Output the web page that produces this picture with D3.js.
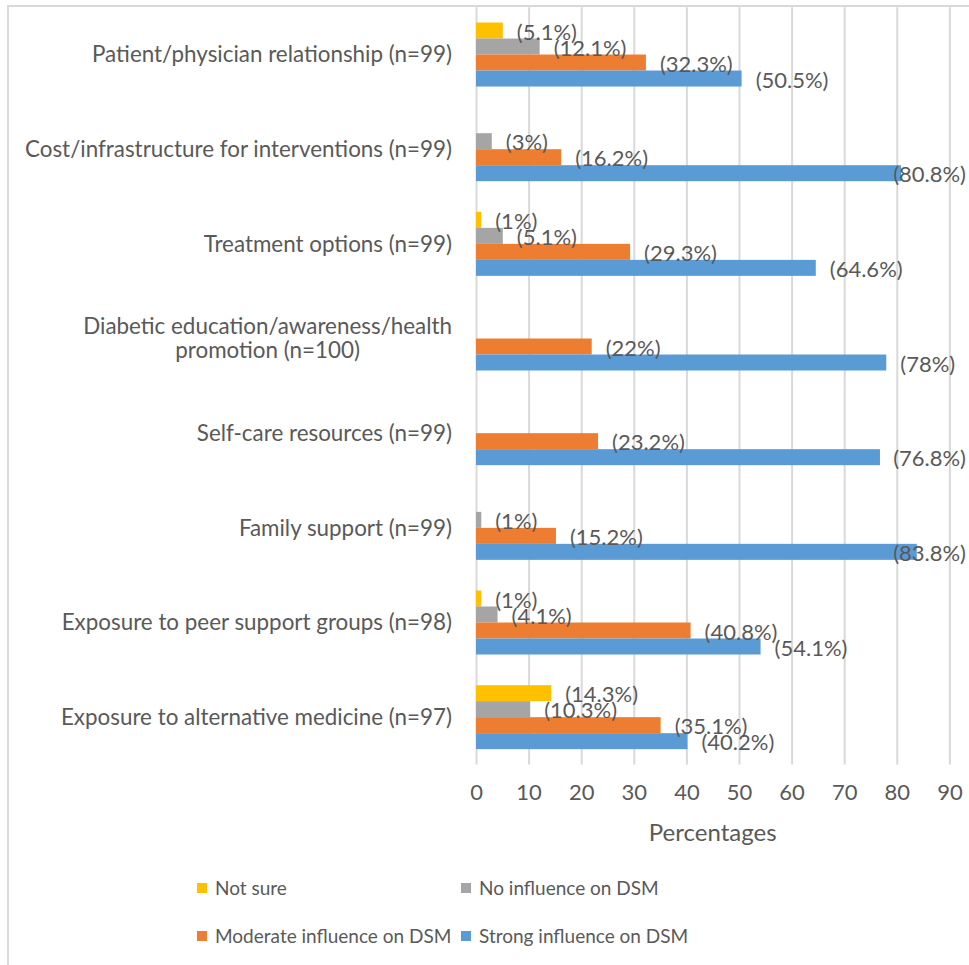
<!DOCTYPE html>
<html>
<head>
<meta charset="utf-8">
<script src="https://cdn.jsdelivr.net/npm/d3@7"></script>
<style>
  html, body { margin: 0; padding: 0; background: #fff; }
  svg { display: block; font-family: Lato, "Open Sans", sans-serif; }
</style>
</head>
<body>
<svg id="chart" width="969" height="965"></svg>
<script>
// Factors influencing diabetes self-management (DSM), % of respondents
const categories = [
  "Patient/physician relationship (n=99)",
  "Cost/infrastructure for interventions (n=99)",
  "Treatment options (n=99)",
  "Diabetic education/awareness/health promotion (n=100)",
  "Self-care resources (n=99)",
  "Family support (n=99)",
  "Exposure to peer support groups (n=98)",
  "Exposure to alternative medicine (n=97)"
];
const seriesNames = ["Not sure", "No influence on DSM", "Moderate influence on DSM", "Strong influence on DSM"];
const notSure     = [5.1, 0, 1, 0, 0, 0, 1, 14.3];
const noInfluence = [12.1, 3, 5.1, 0, 0, 1, 4.1, 10.3];
const moderate    = [32.3, 16.2, 29.3, 22, 23.2, 15.2, 40.8, 35.1];
const strong      = [50.5, 80.8, 64.6, 78, 76.8, 83.8, 54.1, 40.2];
const xTicks      = [0, 10, 20, 30, 40, 50, 60, 70, 80, 90];
const axisTitle   = "Percentages";

const seriesValues = [notSure, noInfluence, moderate, strong];
const colors = ["#FFC000", "#A5A5A5", "#ED7D31", "#5B9BD5"];
const textColor = "#595959";
const gridColor = "#D9D9D9";

const svg = d3.select("#chart");

// chart area outline
svg.append("rect")
  .attr("x", 8).attr("y", 6)
  .attr("width", 980).attr("height", 980)
  .attr("fill", "none").attr("stroke", gridColor).attr("stroke-width", 2);

const plot = { left: 476, right: 949.4, top: 7.2, bottom: 764.5 };
const labelRightEdge = 966;

const x = d3.scaleLinear().domain([0, 90]).range([plot.left, plot.right]);
const y = d3.scaleBand().domain(categories).range([plot.top, plot.bottom]).padding(0);
const groupH = y.bandwidth() * 0.676;
const inner = d3.scaleBand().domain(d3.range(seriesNames.length)).range([0, groupH]).padding(0);

// vertical gridlines + tick labels
const axis = d3.axisBottom(x)
  .tickValues(xTicks)
  .tickFormat(d3.format("d"))
  .tickSizeInner(-(plot.bottom - plot.top))
  .tickSizeOuter(0)
  .tickPadding(20);

const gAxis = svg.append("g")
  .attr("transform", `translate(0,${plot.bottom})`)
  .call(axis);
gAxis.select(".domain").remove();
gAxis.selectAll(".tick line").attr("stroke", gridColor).attr("stroke-width", 2);
gAxis.selectAll(".tick text")
  .attr("fill", textColor)
  .style("font-size", "22px")
  .style("font-family", "Lato, sans-serif");

// axis title
svg.append("text")
  .attr("x", (plot.left + plot.right) / 2)
  .attr("y", 841)
  .attr("text-anchor", "middle")
  .attr("fill", textColor)
  .style("font-size", "24px")
  .text(axisTitle);

// bars
const flat = [];
categories.forEach((c, ci) => {
  seriesValues.forEach((vals, si) => {
    flat.push({ cat: c, si, v: vals[ci] });
  });
});
const barY = d => y(d.cat) + (y.bandwidth() - groupH) / 2 + inner(d.si);

svg.append("g").selectAll("rect")
  .data(flat.filter(d => d.v > 0))
  .join("rect")
  .attr("x", x(0))
  .attr("y", barY)
  .attr("width", d => x(d.v) - x(0))
  .attr("height", inner.bandwidth())
  .attr("fill", d => colors[d.si]);

// data labels, kept inside the chart area at the right
const labels = svg.append("g").selectAll("text")
  .data(flat.filter(d => d.v > 0))
  .join("text")
  .attr("y", d => barY(d) + inner.bandwidth() / 2 + 1.5)
  .attr("dy", "0.35em")
  .attr("fill", textColor)
  .style("font-size", "22px")
  .text(d => `(${d.v}%)`);
labels.each(function(d) {
  const w = this.getComputedTextLength();
  const px = Math.min(x(d.v) + 14, labelRightEdge - w);
  d3.select(this).attr("x", px);
});

// category labels, wrapped when too long, block right-aligned
const catRight = 452;
const maxLabelW = 436;
const catG = svg.append("g");
categories.forEach(c => {
  const t = catG.append("text")
    .attr("fill", textColor)
    .style("font-size", "22.4px");
  const words = c.split(" ");
  let lines = [];
  let line = [];
  const probe = t.append("tspan");
  words.forEach(w => {
    const trial = line.concat([w]).join(" ");
    probe.text(trial);
    if (probe.node().getComputedTextLength() > maxLabelW && line.length) {
      lines.push(line.join(" "));
      line = [w];
    } else {
      line.push(w);
    }
  });
  lines.push(line.join(" "));
  probe.remove();
  const lh = 24;
  const cy = y(c) + y.bandwidth() / 2;
  const tspans = lines.map((ln, i) =>
    t.append("tspan")
      .attr("y", cy + (i - (lines.length - 1) / 2) * lh)
      .attr("dy", "0.35em")
      .text(ln));
  if (lines.length === 1) {
    t.attr("text-anchor", "end");
    tspans.forEach(s => s.attr("x", catRight));
  } else {
    const maxW = d3.max(tspans, s => s.node().getComputedTextLength());
    t.attr("text-anchor", "middle");
    tspans.forEach(s => s.attr("x", catRight - maxW / 2));
  }
});

// legend, two columns
const legendPos = [
  { x: 197, y: 888 }, { x: 461, y: 888 },
  { x: 197, y: 936 }, { x: 461, y: 936 }
];
const legend = svg.append("g").selectAll("g")
  .data(seriesNames)
  .join("g")
  .attr("transform", (d, i) => `translate(${legendPos[i].x},${legendPos[i].y})`);
legend.append("rect")
  .attr("x", 0).attr("y", -5)
  .attr("width", 10).attr("height", 10)
  .attr("fill", (d, i) => colors[i]);
legend.append("text")
  .attr("x", 18).attr("y", 0)
  .attr("dy", "0.35em")
  .attr("fill", textColor)
  .style("font-size", "19px")
  .text(d => d);
</script>
</body>
</html>
